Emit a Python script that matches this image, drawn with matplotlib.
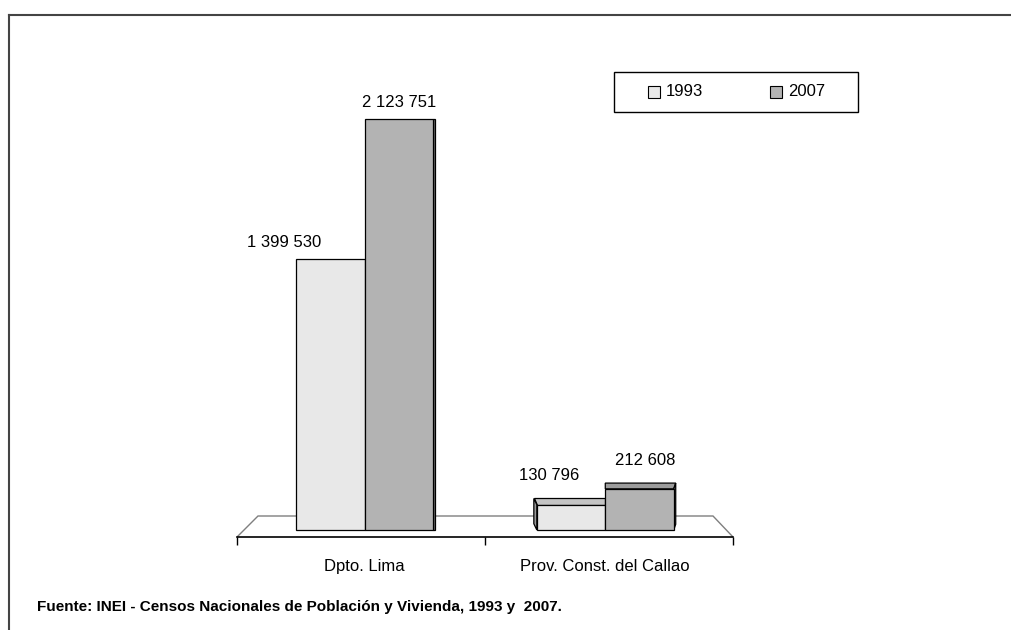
import matplotlib
matplotlib.use("Agg")
import matplotlib.pyplot as plt
from matplotlib.patches import Polygon, Rectangle
from matplotlib.lines import Line2D
import numpy as np

# datos
categorias = ["Dpto. Lima", "Prov. Const. del Callao"]
anios = ["1993", "2007"]
pob_1993 = [1399530, 130796]
pob_2007 = [2123751, 212608]
etq_1993 = ["1 399 530", "130 796"]
etq_2007 = ["2 123 751", "212 608"]
fuente = "Fuente: INEI - Censos Nacionales de Población y Vivienda, 1993 y  2007."

plt.rcParams['font.family'] = ['Liberation Sans', 'DejaVu Sans']

W, H = 1012, 630
fig = plt.figure(figsize=(W / 100, H / 100), dpi=100)

# caja del eje en pixeles
left, right, top, bottom = 237, 733, 100, 537
ax = fig.add_axes([left / W, 1 - bottom / H, (right - left) / W, (bottom - top) / H])
ymin, ymax = -36200, 2221800
ax.set_xlim(-0.5, 1.5)
ax.set_ylim(ymin, ymax)
py = (ymax - ymin) / (bottom - top)   # unidades y por pixel
px = 2.0 / (right - left)             # unidades x por pixel

c1993, c2007 = '#e8e8e8', '#b3b3b3'
top1993, top2007 = '#c4c4c4', '#9c9c9c'
side1993, side2007 = '#9a9a9a', '#7a7a7a'

# piso
floor_h = 21
floor = Polygon([(-0.5, ymin), (-0.5 + 21 * px, ymin + floor_h * py),
                 (1.5 - 20 * px, ymin + floor_h * py), (1.5, ymin)],
                closed=False, facecolor='white', edgecolor='#7f7f7f', lw=1.0, zorder=1)
ax.add_patch(floor)

n = len(categorias)
x = 0.5 + (np.arange(n) - 0.5) * 0.97
w = 0.276
fs = 12


def depth(v):
    return max(0.0, 7 * (1 - v / 1.2e6))


ax.bar(x - w / 2, pob_1993, w, color=c1993, edgecolor='black', lw=0.9, zorder=4)
ax.bar(x + w / 2, pob_2007, w, color=c2007, edgecolor='black', lw=0.9, zorder=4)

for i in range(n):
    # 1993: cara superior y lateral izquierda
    v = pob_1993[i]
    d = depth(v)
    x0, x1 = x[i] - w, x[i]
    if d > 0:
        sl = 3
        ax.add_patch(Polygon([(x0, v), (x1, v), (x1, v + d * py), (x0 - sl * px, v + d * py)],
                             facecolor=top1993, edgecolor='black', lw=0.9, zorder=3))
        ax.add_patch(Polygon([(x0, 0), (x0, v), (x0 - sl * px, v + d * py), (x0 - sl * px, d * py)],
                             facecolor=side1993, edgecolor='black', lw=0.9, zorder=3))
    # 2007: cara superior y lateral derecha
    v = pob_2007[i]
    d = depth(v)
    x0, x1 = x[i], x[i] + w
    sr = 2
    if d > 0:
        ax.add_patch(Polygon([(x0, v), (x1, v), (x1 + sr * px, v + d * py), (x0, v + d * py)],
                             facecolor=top2007, edgecolor='black', lw=0.9, zorder=3))
    ax.add_patch(Polygon([(x1, 0), (x1, v), (x1 + sr * px, v + d * py), (x1 + sr * px, d * py)],
                         facecolor=side2007, edgecolor='black', lw=0.9, zorder=3))

# etiquetas de valores
off_1993 = [-46, -22]
off_2007 = [0, 6]
for i in range(n):
    v = pob_1993[i]
    d = depth(v)
    ax.annotate(etq_1993[i], xy=(x[i] - w / 2, v + d * py),
                xytext=(off_1993[i] * 0.72, (12 + d) * 0.72), textcoords='offset points',
                ha='center', va='baseline', fontsize=fs, zorder=6)
    v = pob_2007[i]
    d = depth(v)
    ax.annotate(etq_2007[i], xy=(x[i] + w / 2, v + d * py),
                xytext=(off_2007[i] * 0.72, (12 + d) * 0.72), textcoords='offset points',
                ha='center', va='baseline', fontsize=fs, zorder=6)

# ejes
for s in ['top', 'right', 'left']:
    ax.spines[s].set_visible(False)
ax.spines['bottom'].set_color('black')
ax.spines['bottom'].set_linewidth(1.2)
ax.set_yticks([])
ax.set_xticks([-0.5, 0.5, 1.5])
ax.set_xticklabels([])
ax.tick_params(axis='x', which='major', direction='out', length=6, width=1, color='black')
ax.set_xticks(x, minor=True)
ax.set_xticklabels(categorias, minor=True, fontsize=fs)
ax.tick_params(axis='x', which='minor', length=0, pad=16)
ax.patch.set_visible(False)

# leyenda manual
fig.patches.append(Rectangle((614 / W, 1 - 112 / H), 244 / W, 40 / H, transform=fig.transFigure,
                             facecolor='white', edgecolor='black', lw=1.0))
for xs, col, lab in [(648, c1993, anios[0]), (770, c2007, anios[1])]:
    fig.patches.append(Rectangle((xs / W, 1 - 98 / H), 12 / W, 12 / H, transform=fig.transFigure,
                                 facecolor=col, edgecolor='black', lw=0.8))
    fig.text((xs + 18) / W, 1 - 92 / H, lab, fontsize=fs, va='center', ha='left')

# marco
fig.add_artist(Line2D([9 / W, 9 / W], [0, 1 - 15 / H], color='#444444', lw=1.5))
fig.add_artist(Line2D([9 / W, 1], [1 - 15 / H, 1 - 15 / H], color='#444444', lw=1.5))

fig.text(37 / W, 1 - 607 / H, fuente, fontsize=11, fontweight='bold', va='center', ha='left')

fig.savefig('out.png', dpi=100)
